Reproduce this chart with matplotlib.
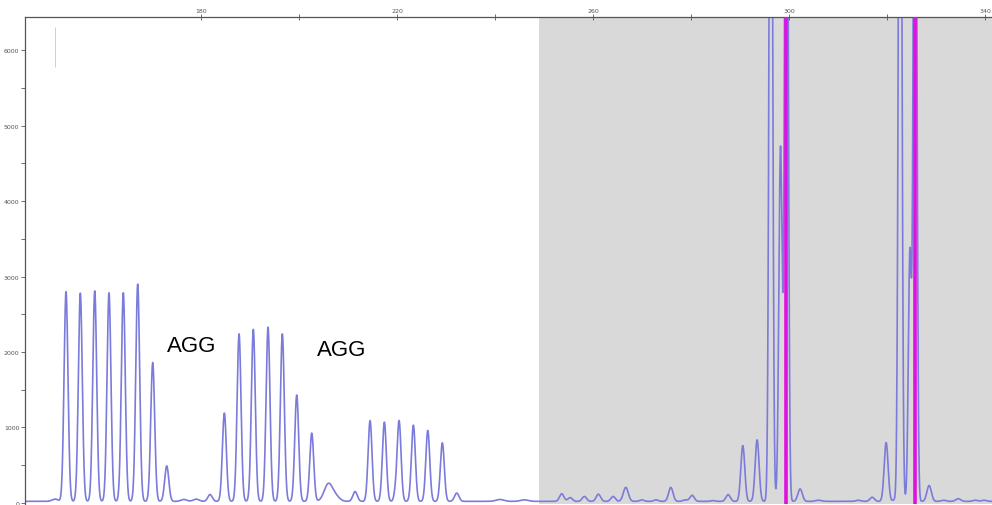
import numpy as np
import matplotlib.pyplot as plt

# peaks: position (bp), height (RFU), width (bp)
peak_pos = [150.2, 152.45, 155.37, 158.31, 161.22, 164.14, 167.08, 170.14, 173.0,
            176.5, 179.0, 181.84, 184.76, 187.76, 190.67, 193.67, 196.59, 199.53,
            202.59, 205.98, 207.5, 211.43, 214.49, 217.41, 219.6, 220.41, 223.33,
            226.27, 229.24, 232.18, 241.0, 246.0,
            253.6, 255.31, 258.22, 261.08, 264.08, 266.67, 269.94, 272.86, 275.86,
            278.78, 280.2, 284.49, 287.55, 290.55, 293.47, 296.27, 298.25, 299.45,
            302.24, 306.0, 314.1, 316.94, 319.8, 321.6, 322.65, 324.65, 325.7,
            328.57, 331.5, 334.5, 338.0, 339.8]
peak_height = [30, 2780, 2760, 2790, 2765, 2765, 2880, 1840, 470,
               25, 30, 90, 1170, 2220, 2280, 2310, 2220, 1410,
               905, 230, 60, 130, 1070, 1050, 80, 1070, 1010,
               940, 775, 110, 25, 20,
               100, 50, 65, 95, 65, 185, 20, 20, 185,
               20, 80, 10, 90, 740, 815, 13000, 4700, 13000,
               165, 15, 15, 55, 780, 20, 13000, 3300, 13000,
               210, 15, 35, 15, 15]
peak_width = [0.6, 0.4, 0.4, 0.4, 0.4, 0.4, 0.4, 0.4, 0.42,
               0.6, 0.6, 0.45, 0.4, 0.4, 0.4, 0.4, 0.4, 0.4,
               0.4, 0.85, 0.8, 0.45, 0.4, 0.4, 0.3, 0.4, 0.4,
               0.4, 0.4, 0.45, 0.8, 0.8,
               0.45, 0.45, 0.45, 0.45, 0.45, 0.5, 0.45, 0.45, 0.45,
               0.45, 0.45, 0.45, 0.45, 0.4, 0.4, 0.32, 0.34, 0.32,
               0.45, 0.6, 0.5, 0.45, 0.4, 0.45, 0.32, 0.32, 0.32,
               0.45, 0.5, 0.5, 0.5, 0.5]
baseline = 20

bin_markers = [299.35, 325.6]
grey_start = 249.0
labels = ['AGG', 'AGG']
label_x = [178.0, 208.6]
label_y = [2080, 2030]

x = np.linspace(144, 342, 8000)
y = np.full_like(x, baseline, dtype=float)
for p, h, w in zip(peak_pos, peak_height, peak_width):
    y += h * np.exp(-0.5 * ((x - p) / w) ** 2)

fig = plt.figure(figsize=(9.92, 5.06), dpi=100)
ax = fig.add_axes([25 / 992, 1 / 506, 967 / 992, 487 / 506])

ax.axvspan(grey_start, 345, color='#d9d9d9', lw=0, zorder=0)
ax.vlines(150.2, 5775, 6305, color='#d0d0d0', lw=0.7, zorder=1)
ax.plot(x, y, color='#7b7bdb', lw=1.2, zorder=2)
for m in bin_markers:
    ax.axvline(m, color='#e010e0', lw=2.6, zorder=3)

for t, tx, ty in zip(labels, label_x, label_y):
    ax.text(tx, ty, t, fontsize=16, family='Liberation Sans', ha='center', va='center')

ax.set_xlim(144.08, 341.4)
ax.set_ylim(-15, 6440)

ax.xaxis.tick_top()
ax.set_xticks([180, 220, 260, 300, 340])
ax.set_xticks([200, 240, 280, 320], minor=True)
ax.set_yticks(range(0, 6001, 1000))
ax.set_yticks(range(500, 6001, 1000), minor=True)
ax.tick_params(axis='x', which='both', direction='inout', length=4, width=0.6,
               colors='#555555', labelsize=4.5, pad=1)
ax.tick_params(axis='y', which='both', direction='out', length=3, width=0.6,
               colors='#555555', labelsize=4.5, pad=1)
for s in ['bottom', 'right']:
    ax.spines[s].set_visible(False)
for s in ['top', 'left']:
    ax.spines[s].set_color('#555555')
    ax.spines[s].set_linewidth(0.9)

fig.savefig('out.png', dpi=100)
